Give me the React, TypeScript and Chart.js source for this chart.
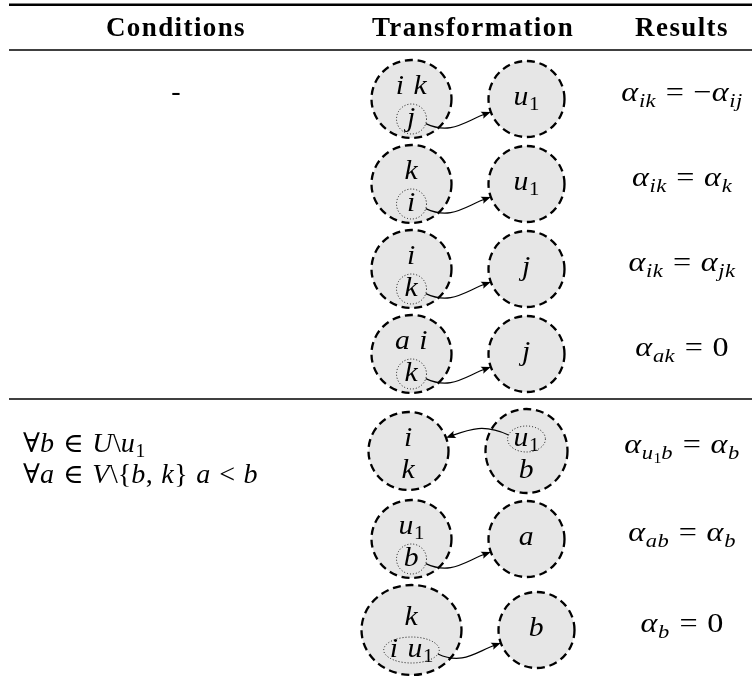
import React, { useEffect, useRef } from "react";
import { Chart, registerables } from "chart.js";

Chart.register(...registerables);

// ---------------- data ----------------
const HEADERS = ["Conditions", "Transformation", "Results"];
const GROUP_SIZES = [4, 3];
const CONDITION_GROUPS = [["-"], ["∀b ∈ U\\u_1", "∀a ∈ V\\{b, k} a < b"]];
const LEFT_TOP = ["i k", "k", "i", "a i", "i", "u_1", "k"];
const LEFT_BOTTOM = ["j", "i", "k", "k", "k", "b", "i u_1"];
const RIGHT_TOP = ["u_1", "u_1", "j", "j", "u_1", "a", "b"];
const RIGHT_BOTTOM = ["", "", "", "", "b", "", ""];
const MOVED_FROM = ["left", "left", "left", "left", "right", "left", "left"];
const RESULTS = [
  "α_{ik} = −α_{ij}",
  "α_{ik} = α_k",
  "α_{ik} = α_{jk}",
  "α_{ak} = 0",
  "α_{u_1b} = α_b",
  "α_{ab} = α_b",
  "α_b = 0",
];

// ---------------- layout & style ----------------
const W = 752;
const H = 688;
const L = {
  ruleX0: 9,
  ruleX1: 752,
  topRuleY: 4.8,
  headRuleY: 50,
  headerBaseline: 36,
  headerX: [176, 473, 682],
  condX: [176, 23],
  condAlign: ["center", "left"],
  condLineGap: 31,
  pairCenterX: 468,
  pairGap: 37,
  resultX: 682,
  groupPadTop: 6.5,
  groupPadBottom: 2.5,
  rowGap: 7,
};
const MATH_FONT = '"Liberation Serif", "DejaVu Serif", serif';
const LABEL_STYLE = { size: 27, stretch: 1.1 };
const RESULT_STYLE = { size: 28, stretch: 1.15 };
const COND_STYLE = { size: 27, stretch: 1.04 };
const FILL = "#e6e6e6";

type Piece = { text: string; font: string; x: number; dy: number };
type MStyle = { size: number; stretch: number };

function layoutMath(ctx: CanvasRenderingContext2D, src: string, size: number, x0: number, dy: number, out: Piece[]): number {
  let x = x0;
  let i = 0;
  while (i < src.length) {
    const ch = src[i];
    if (ch === "_") {
      let sub = "";
      if (src[i + 1] === "{") {
        let depth = 1;
        let j = i + 2;
        while (j < src.length && depth > 0) {
          if (src[j] === "{") depth++;
          else if (src[j] === "}") depth--;
          j++;
        }
        sub = src.slice(i + 2, j - 1);
        i = j;
      } else {
        sub = src[i + 1];
        i += 2;
      }
      x = layoutMath(ctx, sub, size * 0.7, x, dy + size * 0.2, out);
      continue;
    }
    if (ch === " ") {
      x += size * 0.3;
      i++;
      continue;
    }
    const italic = /[A-Za-zα-ω]/.test(ch);
    const font = `${italic ? "italic " : ""}${size}px ${MATH_FONT}`;
    ctx.font = font;
    const w = ctx.measureText(ch).width;
    out.push({ text: ch, font, x, dy });
    x += w + (italic ? size * 0.02 : 0);
    i++;
  }
  return x;
}

function mathWidth(ctx: CanvasRenderingContext2D, src: string, st: MStyle) {
  return layoutMath(ctx, src, st.size, 0, 0, []) * st.stretch;
}

function drawMath(ctx: CanvasRenderingContext2D, src: string, x: number, baseline: number, st: MStyle, align: string) {
  const pieces: Piece[] = [];
  const w = layoutMath(ctx, src, st.size, 0, 0, pieces) * st.stretch;
  const x0 = align === "center" ? x - w / 2 : x;
  ctx.save();
  ctx.fillStyle = "#000";
  ctx.textBaseline = "alphabetic";
  ctx.textAlign = "left";
  ctx.translate(x0, baseline);
  ctx.scale(st.stretch, 1);
  for (const p of pieces) {
    ctx.font = p.font;
    ctx.fillText(p.text, p.x, p.dy);
  }
  ctx.restore();
  return w;
}

type Row = {
  cy: number;
  lcx: number;
  rcx: number;
  lrx: number;
  lry: number;
  rrx: number;
  rry: number;
  left: string[];
  right: string[];
  moved: string;
};

function computeRows() {
  const mctx = document.createElement("canvas").getContext("2d") as CanvasRenderingContext2D;
  const rows: Row[] = [];
  const ruleYs: number[] = [];
  let idx = 0;
  let groupTop = L.headRuleY;
  GROUP_SIZES.forEach((n, g) => {
    let y = groupTop + L.groupPadTop;
    for (let k = 0; k < n; k++, idx++) {
      const left = [LEFT_TOP[idx], LEFT_BOTTOM[idx]].filter(Boolean);
      const right = [RIGHT_TOP[idx], RIGHT_BOTTOM[idx]].filter(Boolean);
      const movedLabel = MOVED_FROM[idx] === "left" ? left[left.length - 1] : right[0];
      const wide = mathWidth(mctx, movedLabel, LABEL_STYLE) > 34 && MOVED_FROM[idx] === "left";
      const lrx = wide ? 50 : 40;
      const lry = wide ? 45 : 39;
      const rrx = right.length > 1 ? 41 : 38;
      const rry = right.length > 1 ? 42 : 38;
      const h = 2 * Math.max(lry, rry) + L.rowGap;
      const total = 2 * lrx + L.pairGap + 2 * rrx;
      const start = L.pairCenterX - total / 2;
      rows.push({
        cy: y + h / 2,
        lcx: start + lrx,
        rcx: start + 2 * lrx + L.pairGap + rrx,
        lrx,
        lry,
        rrx,
        rry,
        left,
        right,
        moved: MOVED_FROM[idx],
      });
      y += h;
    }
    const end = y + L.groupPadBottom;
    if (g < GROUP_SIZES.length - 1) ruleYs.push(end);
    groupTop = end;
  });
  return { rows, ruleYs };
}

function ellipsePath(ctx: CanvasRenderingContext2D, cx: number, cy: number, rx: number, ry: number) {
  ctx.beginPath();
  ctx.ellipse(cx, cy, rx, ry, 0, 0, Math.PI * 2);
}

function drawNode(ctx: CanvasRenderingContext2D, cx: number, cy: number, rx: number, ry: number) {
  ellipsePath(ctx, cx, cy, rx, ry);
  ctx.fillStyle = FILL;
  ctx.fill();
  ctx.setLineDash([8, 4.8]);
  ctx.lineWidth = 2.3;
  ctx.strokeStyle = "#000";
  ctx.stroke();
  ctx.setLineDash([]);
}

function labelPositions(labels: string[], cy: number) {
  if (labels.length === 1) return [cy];
  return [cy - 11, cy + 21];
}

function drawArrow(ctx: CanvasRenderingContext2D, sx: number, sy: number, ex: number, ey: number, dir: number) {
  const d = Math.hypot(ex - sx, ey - sy);
  const len = d * 0.42;
  const a1 = (25 * Math.PI) / 180;
  const a2 = (20 * Math.PI) / 180;
  const c1x = sx + dir * len * Math.cos(a1);
  const c1y = sy + dir * len * Math.sin(a1);
  const c2x = ex - dir * len * Math.cos(a2);
  const c2y = ey + dir * len * Math.sin(a2);
  let ux = ex - c2x;
  let uy = ey - c2y;
  const n = Math.hypot(ux, uy);
  ux /= n;
  uy /= n;
  const headLen = 9.5;
  const headW = 3.8;
  const bx = ex - ux * headLen;
  const by = ey - uy * headLen;
  ctx.strokeStyle = "#000";
  ctx.lineWidth = 1.2;
  ctx.beginPath();
  ctx.moveTo(sx, sy);
  ctx.bezierCurveTo(c1x, c1y, c2x, c2y, ex - ux * 6, ey - uy * 6);
  ctx.stroke();
  ctx.fillStyle = "#000";
  ctx.beginPath();
  ctx.moveTo(ex, ey);
  ctx.lineTo(bx - uy * headW, by + ux * headW);
  ctx.quadraticCurveTo(ex - ux * 6.5, ey - uy * 6.5, bx + uy * headW, by - ux * headW);
  ctx.closePath();
  ctx.fill();
}

function makePlugin(rows: Row[], ruleYs: number[]) {
  return {
    id: "tableDiagram",
    afterDatasetsDraw(chart: any) {
      const ctx: CanvasRenderingContext2D = chart.ctx;
      const sx = chart.scales.x;
      const sy = chart.scales.y;
      const px = (v: number) => sx.getPixelForValue(v);
      const py = (v: number) => sy.getPixelForValue(v);
      const leftPts = chart.getDatasetMeta(0).data;
      const rightPts = chart.getDatasetMeta(1).data;
      const resPts = chart.getDatasetMeta(2).data;
      ctx.save();

      // rules
      ctx.strokeStyle = "#000";
      const hline = (y: number, w: number) => {
        ctx.lineWidth = w;
        ctx.beginPath();
        ctx.moveTo(px(L.ruleX0), py(y));
        ctx.lineTo(px(L.ruleX1), py(y));
        ctx.stroke();
      };
      hline(L.topRuleY, 2.4);
      hline(L.headRuleY, 1.5);
      ruleYs.forEach((y) => hline(y, 1.5));

      // headers
      ctx.fillStyle = "#000";
      ctx.textAlign = "center";
      ctx.textBaseline = "alphabetic";
      ctx.font = `bold 27px "Liberation Serif", "DejaVu Serif", serif`;
      (ctx as any).letterSpacing = "1.4px";
      HEADERS.forEach((h, i) => ctx.fillText(h, px(L.headerX[i]), py(L.headerBaseline)));
      (ctx as any).letterSpacing = "0px";

      // conditions
      let start = 0;
      GROUP_SIZES.forEach((n, g) => {
        const cy = rows[start].cy;
        CONDITION_GROUPS[g].forEach((line, li) => {
          drawMath(ctx, line, px(L.condX[g]), py(cy + 1 + li * L.condLineGap), COND_STYLE, L.condAlign[g]);
        });
        start += n;
      });

      // diagrams
      rows.forEach((r, i) => {
        const lp = leftPts[i];
        const rp = rightPts[i];
        drawNode(ctx, lp.x, lp.y, r.lrx, r.lry);
        drawNode(ctx, rp.x, rp.y, r.rrx, r.rry);

        const lys = labelPositions(r.left, lp.y);
        const rys = labelPositions(r.right, rp.y);
        const sizeBase = LABEL_STYLE.size * 0.22;
        r.left.forEach((t, k) => drawMath(ctx, t, lp.x, lys[k] + sizeBase, LABEL_STYLE, "center"));
        r.right.forEach((t, k) => drawMath(ctx, t, rp.x, rys[k] + sizeBase, LABEL_STYLE, "center"));

        // moved vertex (dotted) and arrow
        const fromLeft = r.moved === "left";
        const label = fromLeft ? r.left[r.left.length - 1] : r.right[0];
        const dcx = fromLeft ? lp.x : rp.x;
        const dcy = (fromLeft ? lys[lys.length - 1] : rys[0]) - 1;
        const w = mathWidth(ctx, label, LABEL_STYLE);
        const drx = Math.max(15, w / 2 + 6);
        const dry = drx > 16 ? 13 : drx;
        ellipsePath(ctx, dcx, dcy, drx, dry);
        ctx.setLineDash([1, 2]);
        ctx.lineWidth = 0.9;
        ctx.strokeStyle = "#000";
        ctx.stroke();
        ctx.setLineDash([]);

        const aS = (18 * Math.PI) / 180;
        const aE = (20 * Math.PI) / 180;
        if (fromLeft) {
          const sxp = dcx + drx * Math.cos(aS);
          const syp = dcy + dry * Math.sin(aS);
          const exp = rp.x - r.rrx * Math.cos(aE);
          const eyp = rp.y + r.rry * Math.sin(aE);
          drawArrow(ctx, sxp, syp, exp, eyp, 1);
        } else {
          const sxp = dcx - drx * Math.cos(aS);
          const syp = dcy - dry * Math.sin(aS);
          const exp = lp.x + r.lrx * Math.cos(aE);
          const eyp = lp.y - r.lry * Math.sin(aE);
          drawArrow(ctx, sxp, syp, exp, eyp, -1);
        }

        // result
        const rs = resPts[i];
        drawMath(ctx, RESULTS[i], rs.x, rs.y + 2, RESULT_STYLE, "center");
      });

      ctx.restore();
    },
  };
}

export default function App() {
  const ref = useRef<HTMLCanvasElement>(null);
  useEffect(() => {
    const canvas = ref.current;
    if (!canvas) return;
    const { rows, ruleYs } = computeRows();
    const chart = new Chart(canvas, {
      type: "scatter",
      data: {
        datasets: [
          { label: "left", data: rows.map((r) => ({ x: r.lcx, y: r.cy })), pointRadius: 0 },
          { label: "right", data: rows.map((r) => ({ x: r.rcx, y: r.cy })), pointRadius: 0 },
          { label: "results", data: rows.map((r) => ({ x: L.resultX, y: r.cy })), pointRadius: 0 },
        ],
      },
      options: {
        responsive: false,
        animation: false,
        events: [],
        layout: { padding: 0 },
        plugins: { legend: { display: false }, tooltip: { enabled: false } },
        scales: {
          x: { type: "linear", min: 0, max: W, display: false },
          y: { type: "linear", min: 0, max: H, reverse: true, display: false },
        },
      },
      plugins: [makePlugin(rows, ruleYs)],
    } as any);
    return () => chart.destroy();
  }, []);
  return (
    <div style={{ position: "fixed", left: 0, top: 0, width: W, height: H, background: "#fff" }}>
      <canvas ref={ref} width={W} height={H} style={{ display: "block", width: W, height: H }} />
    </div>
  );
}
